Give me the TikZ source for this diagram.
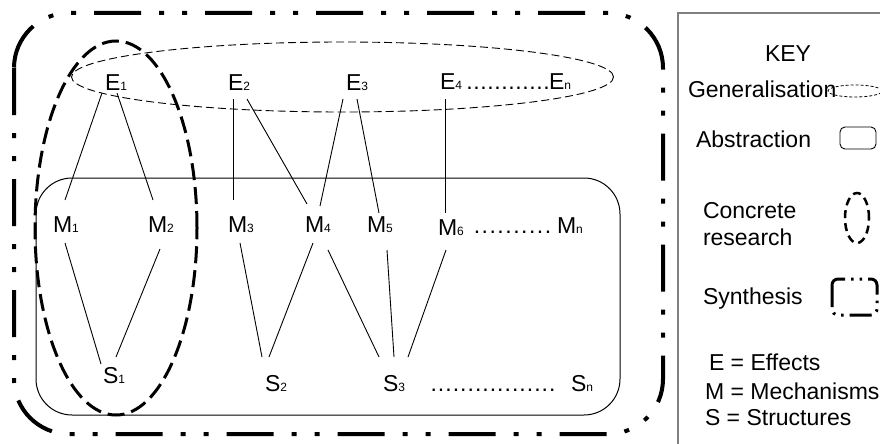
\documentclass[tikz,border=0pt]{standalone}
\usepackage{fontspec}
\setmainfont{Liberation Sans}
\usetikzlibrary{calc}
\newcommand\lo[1]{{\fontsize{12}{13}\selectfont #1}}
\newcommand\dotrow[2]{\hbox to #1{\cleaders\hbox to #2{\hss.\hss}\hfill}}
\tikzset{
  lab/.style={font=\fontsize{23}{27}\selectfont, inner sep=0pt, outer sep=0pt, anchor=base west},
  conn/.style={line width=0.9pt, black},
  synth/.style={line width=4pt, rounded corners=55pt, dash pattern=on 47pt off 18pt on 5pt off 18pt on 5pt off 18pt},
  concrete/.style={line width=3pt, dash pattern=on 17pt off 7pt},
  general/.style={line width=0.9pt, dash pattern=on 8pt off 4pt},
  abstr/.style={line width=1pt, rounded corners=36pt},
}
\begin{document}
\begin{tikzpicture}[x=1pt,y=-1pt]
\useasboundingbox (0,0) rectangle (880,444);
% key box and clipped key shapes
\begin{scope}
\clip (0,0) rectangle (880,444);
\draw[line width=1.5pt, gray] (678,13) rectangle (895,460);
\draw[line width=0.8pt, dash pattern=on 3pt off 2pt] (855,91) ellipse [x radius=27pt, y radius=6pt];
\end{scope}
% main enclosures
\draw[general] (342.5,77) ellipse [x radius=271pt, y radius=35pt];
\draw[abstr] (36,178) rectangle (620,415);
\draw[concrete] (116,228) ellipse [x radius=81pt, y radius=187pt];
\draw[synth] (14,13) rectangle (663,434);
% labels
\node[lab] (E1) at (105,90) {E\lo{1}};
\node[lab] (E2) at (228,90) {E\lo{2}};
\node[lab] (E3) at (346,90) {E\lo{3}};
\node[lab] (E4) at (440,89) {E\lo{4}};
\node[lab] (Ed) at (466,89) {\dotrow{84pt}{7pt}};
\node[lab] (En) at (549,89) {E\lo{n}};
\node[lab] (M1) at (53,232) {M\lo{1}};
\node[lab] (M2) at (148,232) {M\lo{2}};
\node[lab] (M3) at (228,232) {M\lo{3}};
\node[lab] (M4) at (305,232) {M\lo{4}};
\node[lab] (M5) at (367,232) {M\lo{5}};
\node[lab] (M6) at (438,235) {M\lo{6}};
\node[lab] (Md) at (473,233) {\dotrow{79pt}{7.9pt}};
\node[lab] (Mn) at (557,233) {M\lo{n}};
\node[lab] (S1) at (103,383) {S\lo{1}};
\node[lab] (S2) at (265,391) {S\lo{2}};
\node[lab] (S3) at (383,391) {S\lo{3}};
\node[lab] (Sd) at (430,391) {\dotrow{126pt}{7.4pt}};
\node[lab] (Sn) at (571,391) {S\lo{n}};
% connectors E-M
\draw[conn] ($(E1.base west)+(-3,3)$) -- ($(M1.base west)+(12,-32)$);
\draw[conn] ($(E1.base west)+(12,3)$) -- ($(M2.base west)+(5,-32)$);
\draw[conn] ($(E2.base west)+(5,9)$) -- ($(M3.base west)+(5,-32)$);
\draw[conn] ($(E2.base west)+(19,9)$) -- ($(M4.base west)+(2,-28)$);
\draw[conn] ($(E3.base west)+(-3,9)$) -- ($(M4.base west)+(15,-26)$);
\draw[conn] ($(E3.base west)+(11,9)$) -- ($(M5.base west)+(12,-19)$);
\draw[conn] ($(E4.base west)+(5,10)$) -- ($(M6.base west)+(7,-22)$);
% connectors M-S
\draw[conn] ($(M1.base west)+(12,11)$) -- ($(S1.base west)+(-2,-19)$);
\draw[conn] ($(M2.base west)+(12,17)$) -- ($(S1.base west)+(13,-26)$);
\draw[conn] ($(M3.base west)+(12,11)$) -- ($(S2.base west)+(-3,-34)$);
\draw[conn] ($(M4.base west)+(8,11)$) -- ($(S2.base west)+(4,-34)$);
\draw[conn] ($(M4.base west)+(23,18)$) -- ($(S3.base west)+(-4,-34)$);
\draw[conn] ($(M5.base west)+(20,18)$) -- ($(S3.base west)+(11,-34)$);
\draw[conn] ($(M6.base west)+(8,15)$) -- ($(S3.base west)+(25,-34)$);
% key
\node[lab, anchor=base] (key) at (788,62) {KEY};
\node[lab] (kgen) at (688,97) {Generalisation};
\node[lab] (kabs) at (696,147) {Abstraction};
\draw[line width=0.9pt, rounded corners=5pt] (840,127) rectangle (876,149);
\node[lab] (kcon) at (703,218) {Concrete};
\node[lab] (kres) at (703,245) {research};
\draw[line width=2.5pt, dash pattern=on 8pt off 5pt] (857,218) ellipse [x radius=12pt, y radius=25pt];
\node[lab] (ksyn) at (703,304) {Synthesis};
\draw[line width=3pt, rounded corners=6pt, dash pattern=on 22pt off 6pt on 2.5pt off 6pt on 2.5pt off 6pt] (832,279) rectangle (877,315);
\node[lab] (kE) at (709,370) {E = Effects};
\node[lab] (kM) at (705,399) {M = Mechanisms};
\node[lab] (kS) at (705,425) {S = Structures};
\end{tikzpicture}
\end{document}
